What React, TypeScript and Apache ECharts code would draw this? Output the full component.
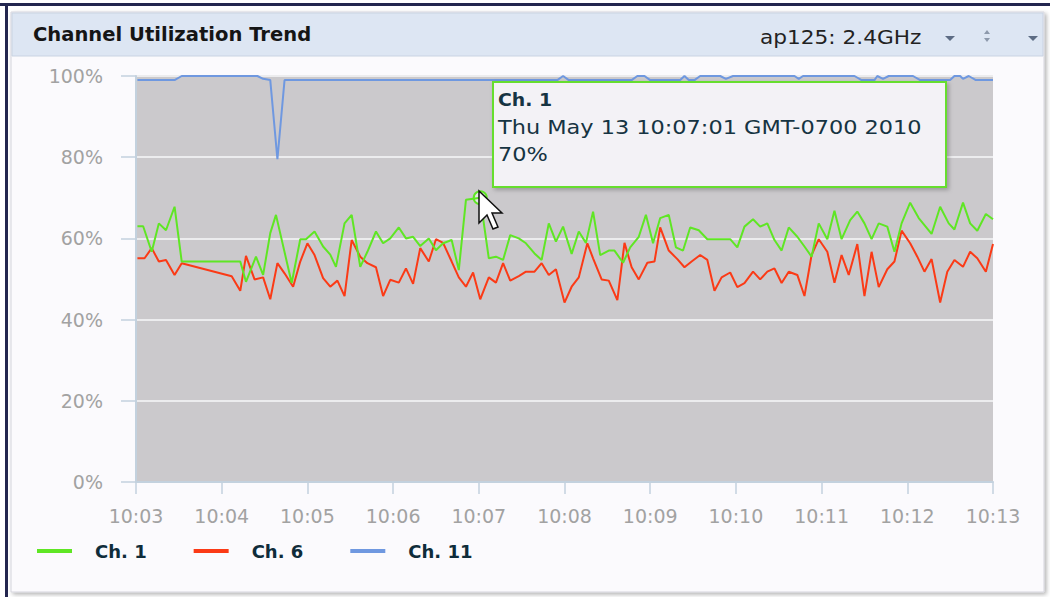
import React, { useEffect, useRef } from "react";
import * as echarts from "echarts";

// Per-channel utilization samples: [time of day, percent]
const TIP_TIME = "10:07:01";
const TIP_VALUE = 70;

const ch1: [string, number][] = [
  ["10:03:01", 63], ["10:03:05", 63], ["10:03:11", 56.7], ["10:03:16", 63.7], ["10:03:21", 62],
  ["10:03:27", 67.8], ["10:03:32", 54.3], ["10:04:13", 54.3], ["10:04:17", 49.3], ["10:04:24", 55.5],
  ["10:04:29", 51], ["10:04:34", 61.3], ["10:04:38", 65.8], ["10:04:49", 49], ["10:04:55", 59.8],
  ["10:04:59", 59.8], ["10:05:05", 61.7], ["10:05:11", 58], ["10:05:16", 56], ["10:05:20", 53],
  ["10:05:26", 63.7], ["10:05:31", 65.8], ["10:05:37", 53], ["10:05:42", 56.7], ["10:05:48", 61.7],
  ["10:05:53", 58.8], ["10:05:58", 60], ["10:06:04", 62.7], ["10:06:09", 60], ["10:06:14", 60.4],
  ["10:06:19", 58.1], ["10:06:25", 60], ["10:06:30", 57.1], ["10:06:35", 58.8], ["10:06:41", 59.6],
  ["10:06:46", 52.2], ["10:06:51", 69.5], [TIP_TIME, TIP_VALUE], ["10:07:07", 55.1], ["10:07:12", 55.5],
  ["10:07:17", 54.7], ["10:07:22", 60.8], ["10:07:28", 60], ["10:07:33", 58.8], ["10:07:39", 56.3],
  ["10:07:44", 54.7], ["10:07:49", 63.7], ["10:07:54", 59.2], ["10:07:59", 62.9], ["10:08:05", 56.2],
  ["10:08:10", 61.7], ["10:08:15", 58.9], ["10:08:20", 66.6], ["10:08:25", 55.9], ["10:08:31", 57],
  ["10:08:35", 57], ["10:08:41", 54], ["10:08:46", 57.8], ["10:08:52", 60.4], ["10:08:57", 65.8],
  ["10:09:02", 58.8], ["10:09:07", 65], ["10:09:13", 65.8], ["10:09:18", 57.8], ["10:09:23", 57],
  ["10:09:28", 62.7], ["10:09:34", 62], ["10:09:40", 59.8], ["10:09:45", 59.8], ["10:09:51", 59.8],
  ["10:09:56", 59.8], ["10:10:01", 57.8], ["10:10:06", 62.9], ["10:10:12", 64.7], ["10:10:17", 62.9],
  ["10:10:22", 63.7], ["10:10:27", 59.6], ["10:10:32", 57], ["10:10:37", 62.7], ["10:10:43", 60.4],
  ["10:10:48", 58], ["10:10:53", 55.5], ["10:10:58", 63.7], ["10:11:04", 59.8], ["10:11:09", 66.8],
  ["10:11:14", 59.8], ["10:11:20", 64.5], ["10:11:25", 66.6], ["10:11:30", 63.7], ["10:11:35", 59.8],
  ["10:11:40", 63.7], ["10:11:46", 62.9], ["10:11:51", 56.7], ["10:11:56", 63.7], ["10:12:02", 68.8],
  ["10:12:08", 65], ["10:12:17", 61.1], ["10:12:23", 67.8], ["10:12:29", 63.7], ["10:12:33", 62.2],
  ["10:12:39", 68.8], ["10:12:44", 63.7], ["10:12:49", 61.9], ["10:12:55", 66], ["10:13:00", 64.7],
];

const ch6: [string, number][] = [
  ["10:03:01", 55.1], ["10:03:06", 55.1], ["10:03:11", 57.6], ["10:03:16", 54.3], ["10:03:21", 54.7],
  ["10:03:27", 51], ["10:03:32", 53.9], ["10:04:07", 50.7], ["10:04:13", 47.1], ["10:04:17", 55.7],
  ["10:04:23", 49.9], ["10:04:29", 50.4], ["10:04:34", 45], ["10:04:39", 53.9], ["10:04:44", 51.4],
  ["10:04:50", 48.1], ["10:04:55", 54.3], ["10:05:00", 58.8], ["10:05:05", 55.9], ["10:05:11", 50.2],
  ["10:05:16", 48.1], ["10:05:21", 49.6], ["10:05:26", 45.8], ["10:05:31", 59.6], ["10:05:37", 55.5],
  ["10:05:42", 53.9], ["10:05:48", 52.9], ["10:05:53", 45.8], ["10:05:58", 49.8], ["10:06:04", 49.1],
  ["10:06:09", 52.6], ["10:06:14", 48.8], ["10:06:19", 57.6], ["10:06:25", 54.3], ["10:06:30", 59.8],
  ["10:06:35", 58.9], ["10:06:41", 54.3], ["10:06:46", 50.4], ["10:06:51", 48.1], ["10:06:56", 51.6],
  ["10:07:01", 45], ["10:07:07", 50.4], ["10:07:12", 49.1], ["10:07:17", 53.9], ["10:07:22", 49.6],
  ["10:07:28", 50.7], ["10:07:33", 51.8], ["10:07:39", 51.8], ["10:07:44", 53.9], ["10:07:49", 51],
  ["10:07:54", 52.4], ["10:08:00", 44.2], ["10:08:05", 48.1], ["10:08:10", 50.4], ["10:08:16", 58.8],
  ["10:08:20", 55.1], ["10:08:26", 49.9], ["10:08:31", 49.6], ["10:08:37", 44.8], ["10:08:42", 58.9],
  ["10:08:47", 52.9], ["10:08:52", 49.9], ["10:08:58", 54], ["10:09:03", 54.3], ["10:09:07", 62.7],
  ["10:09:13", 57], ["10:09:19", 54.9], ["10:09:24", 52.9], ["10:09:29", 54.3], ["10:09:35", 55.9],
  ["10:09:40", 54.7], ["10:09:45", 47.1], ["10:09:50", 50.4], ["10:09:56", 51.6], ["10:10:01", 48],
  ["10:10:06", 49], ["10:10:12", 51.8], ["10:10:17", 49.9], ["10:10:22", 51.8], ["10:10:27", 52.6],
  ["10:10:32", 49], ["10:10:37", 51.8], ["10:10:43", 51], ["10:10:48", 45.8], ["10:10:53", 55.9],
  ["10:10:58", 59.8], ["10:11:04", 56.7], ["10:11:09", 49.1], ["10:11:14", 55.9], ["10:11:19", 51],
  ["10:11:25", 58.6], ["10:11:30", 45.8], ["10:11:35", 56.7], ["10:11:40", 48], ["10:11:46", 52.4],
  ["10:11:51", 54.3], ["10:11:56", 61.9], ["10:12:02", 58.8], ["10:12:07", 55.5], ["10:12:12", 51.8],
  ["10:12:17", 54.9], ["10:12:23", 44.2], ["10:12:28", 51.8], ["10:12:33", 54.7], ["10:12:39", 53],
  ["10:12:44", 56.7], ["10:12:49", 55.1], ["10:12:55", 51.8], ["10:13:00", 58.6],
];

const ch11: [string, number][] = [
  ["10:03:01", 99], ["10:03:27", 99], ["10:03:32", 100], ["10:04:25", 100], ["10:04:29", 99.3],
  ["10:04:34", 99], ["10:04:39", 79.5], ["10:04:44", 99], ["10:07:55", 99], ["10:07:59", 100],
  ["10:08:03", 99], ["10:08:47", 99], ["10:08:51", 100], ["10:08:56", 100], ["10:09:00", 99],
  ["10:09:21", 99], ["10:09:24", 100], ["10:09:27", 99], ["10:09:31", 99], ["10:09:35", 100],
  ["10:09:49", 100], ["10:09:53", 99.3], ["10:09:58", 100], ["10:10:41", 100], ["10:10:44", 99.3],
  ["10:10:47", 100], ["10:11:23", 100], ["10:11:28", 99], ["10:11:37", 99], ["10:11:39", 100],
  ["10:11:43", 99.3], ["10:11:47", 100], ["10:12:04", 100], ["10:12:09", 99], ["10:12:30", 99],
  ["10:12:33", 100], ["10:12:37", 100], ["10:12:39", 99.3], ["10:12:43", 100], ["10:12:48", 99],
  ["10:13:00", 99],
];

const SERIES_NAMES = ["Ch. 1", "Ch. 6", "Ch. 11"];
const SERIES_COLORS = ["#5fe624", "#fb3a16", "#6f98e0"];
const X_START = "10:03:00";
const X_END = "10:13:00";
const Y_TICKS = [0, 20, 40, 60, 80, 100];
const TITLE = "Channel Utilization Trend";
const RADIO_NAME = "ap125: 2.4GHz";
const TIP_DATE_PREFIX = "Thu May 13";
const TIP_DATE_SUFFIX = "GMT-0700 2010";

const toSec = (t: string) => {
  const [h, m, s] = t.split(":").map(Number);
  return h * 3600 + m * 60 + s;
};
const fmtMin = (v: number) => {
  const h = Math.floor(v / 3600);
  const m = Math.floor((v % 3600) / 60);
  return `${h}:${String(m).padStart(2, "0")}`;
};

const FONT = "DejaVu Sans";

export default function App() {
  const ref = useRef<HTMLDivElement>(null);

  useEffect(() => {
    document.body.style.margin = "0";
    const chart = echarts.init(ref.current!, null, { renderer: "svg" });
    const seriesData = [ch1, ch6, ch11].map((arr) => arr.map(([t, v]) => [toSec(t), v]));
    const tipX = 493;
    const tipY = 82;

    // Mouse pointer arrow, tip at the origin
    const arrow = [
      [0, 0], [0, 32], [8, 24], [14, 38], [19, 36], [13, 22], [23, 22],
    ];

    chart.setOption({
      animation: false,
      backgroundColor: "#ffffff",
      grid: {
        left: 136,
        right: 57,
        top: 76,
        bottom: 115,
        show: true,
        backgroundColor: "#cbc9cc",
        borderWidth: 0,
      },
      xAxis: {
        type: "value",
        min: toSec(X_START),
        max: toSec(X_END),
        interval: 60,
        axisLine: { lineStyle: { color: "#c3d1de", width: 2 } },
        axisTick: { show: true, length: 12, lineStyle: { color: "#c3d1de", width: 1.5 } },
        splitLine: { show: false },
        axisLabel: {
          formatter: (v: number) => fmtMin(v),
          color: "#a2a2a2",
          fontFamily: FONT,
          fontSize: 19,
          margin: 24,
        },
      },
      yAxis: {
        type: "value",
        min: Y_TICKS[0],
        max: Y_TICKS[Y_TICKS.length - 1],
        interval: Y_TICKS[1] - Y_TICKS[0],
        axisLine: { show: true, lineStyle: { color: "#c3d1de", width: 2 } },
        axisTick: { show: true, length: 15, lineStyle: { color: "#c3d1de", width: 1.5 } },
        splitLine: { show: true, lineStyle: { color: "#ececee", width: 2 } },
        axisLabel: {
          formatter: "{value}%",
          color: "#a2a2a2",
          fontFamily: FONT,
          fontSize: 19,
          margin: 33,
        },
      },
      legend: {
        left: 37,
        top: 542,
        padding: 0,
        icon: "rect",
        itemWidth: 35,
        itemHeight: 4,
        itemGap: 47,
        data: SERIES_NAMES,
        textStyle: {
          fontFamily: FONT,
          fontWeight: "bold",
          fontSize: 18,
          color: "#0f2c3a",
          padding: [0, 0, 0, 18],
        },
      },
      series: SERIES_NAMES.map((name, i) => ({
        name,
        type: "line",
        data: seriesData[i],
        symbol: "none",
        color: SERIES_COLORS[i],
        lineStyle: { width: 2, color: SERIES_COLORS[i] },
        z: 3 - i + 2,
        markPoint:
          i === 0
            ? {
                symbol: "circle",
                symbolSize: 13,
                label: { show: false },
                itemStyle: {
                  color: "rgba(255,255,255,0.55)",
                  borderColor: SERIES_COLORS[0],
                  borderWidth: 2,
                },
                data: [{ coord: [toSec(TIP_TIME), TIP_VALUE] }],
              }
            : undefined,
      })),
      graphic: [
        // outer frame
        { type: "rect", z: -10, shape: { x: 0, y: 3, width: 1050, height: 3 }, style: { fill: "#23264f" } },
        { type: "rect", z: -10, shape: { x: 5, y: 3, width: 3, height: 594 }, style: { fill: "#23264f" } },
        // panel
        {
          type: "rect",
          z: -9,
          shape: { x: 11, y: 12, width: 1033, height: 580 },
          style: {
            fill: "#fbfafd",
            stroke: "#d4d4dc",
            lineWidth: 1,
            shadowBlur: 4,
            shadowOffsetX: 2,
            shadowOffsetY: 2,
            shadowColor: "rgba(0,0,0,0.3)",
          },
        },
        // header band
        {
          type: "rect",
          z: -8,
          shape: { x: 12, y: 13, width: 1031, height: 43 },
          style: { fill: "#dde6f3", stroke: "#c9d3e2", lineWidth: 1 },
        },
        {
          type: "text",
          z: 10,
          x: 33,
          y: 35,
          scaleX: 1.03,
          style: {
            text: TITLE,
            fontFamily: FONT,
            fontWeight: "bold",
            fontSize: 19,
            fill: "#151515",
            verticalAlign: "middle",
          },
        },
        {
          type: "text",
          z: 10,
          x: 760,
          y: 37,
          scaleX: 1.14,
          style: {
            text: RADIO_NAME,
            fontFamily: FONT,
            fontSize: 19,
            fill: "#222222",
            verticalAlign: "middle",
          },
        },
        // header menu arrows
        { type: "polygon", z: 10, shape: { points: [[945, 36], [955, 36], [950, 41]] }, style: { fill: "#5d6c84" } },
        { type: "polygon", z: 10, shape: { points: [[984, 34], [990, 34], [987, 30]] }, style: { fill: "#8d99ab" } },
        { type: "polygon", z: 10, shape: { points: [[984, 38], [990, 38], [987, 42]] }, style: { fill: "#8d99ab" } },
        { type: "polygon", z: 10, shape: { points: [[1028, 36], [1038, 36], [1033, 41]] }, style: { fill: "#5d6c84" } },
        // hover tooltip
        {
          type: "rect",
          z: 100,
          shape: { x: tipX, y: tipY, width: 453, height: 105 },
          style: {
            fill: "#f3f2f6",
            stroke: "#66de2e",
            lineWidth: 2,
            shadowBlur: 4,
            shadowOffsetX: 2,
            shadowOffsetY: 2,
            shadowColor: "rgba(0,0,0,0.25)",
          },
        },
        {
          type: "text",
          z: 101,
          x: tipX + 5,
          y: tipY + 18,
          scaleX: 1.05,
          style: {
            text: SERIES_NAMES[0],
            fontFamily: FONT,
            fontWeight: "bold",
            fontSize: 18,
            fill: "#163442",
            verticalAlign: "middle",
          },
        },
        {
          type: "text",
          z: 101,
          x: tipX + 5,
          y: tipY + 46,
          scaleX: 1.18,
          style: {
            text: `${TIP_DATE_PREFIX} ${TIP_TIME} ${TIP_DATE_SUFFIX}`,
            fontFamily: FONT,
            fontSize: 19,
            fill: "#163442",
            verticalAlign: "middle",
          },
        },
        {
          type: "text",
          z: 101,
          x: tipX + 5,
          y: tipY + 73,
          scaleX: 1.18,
          style: {
            text: `${TIP_VALUE}%`,
            fontFamily: FONT,
            fontSize: 19,
            fill: "#163442",
            verticalAlign: "middle",
          },
        },
        // pointer
        {
          type: "polygon",
          z: 102,
          x: 479,
          y: 191,
          shape: { points: arrow },
          style: { fill: "#ffffff", stroke: "#111111", lineWidth: 1.5 },
        },
      ],
    });

    return () => chart.dispose();
  }, []);

  return <div ref={ref} style={{ width: 1050, height: 597 }} />;
}
